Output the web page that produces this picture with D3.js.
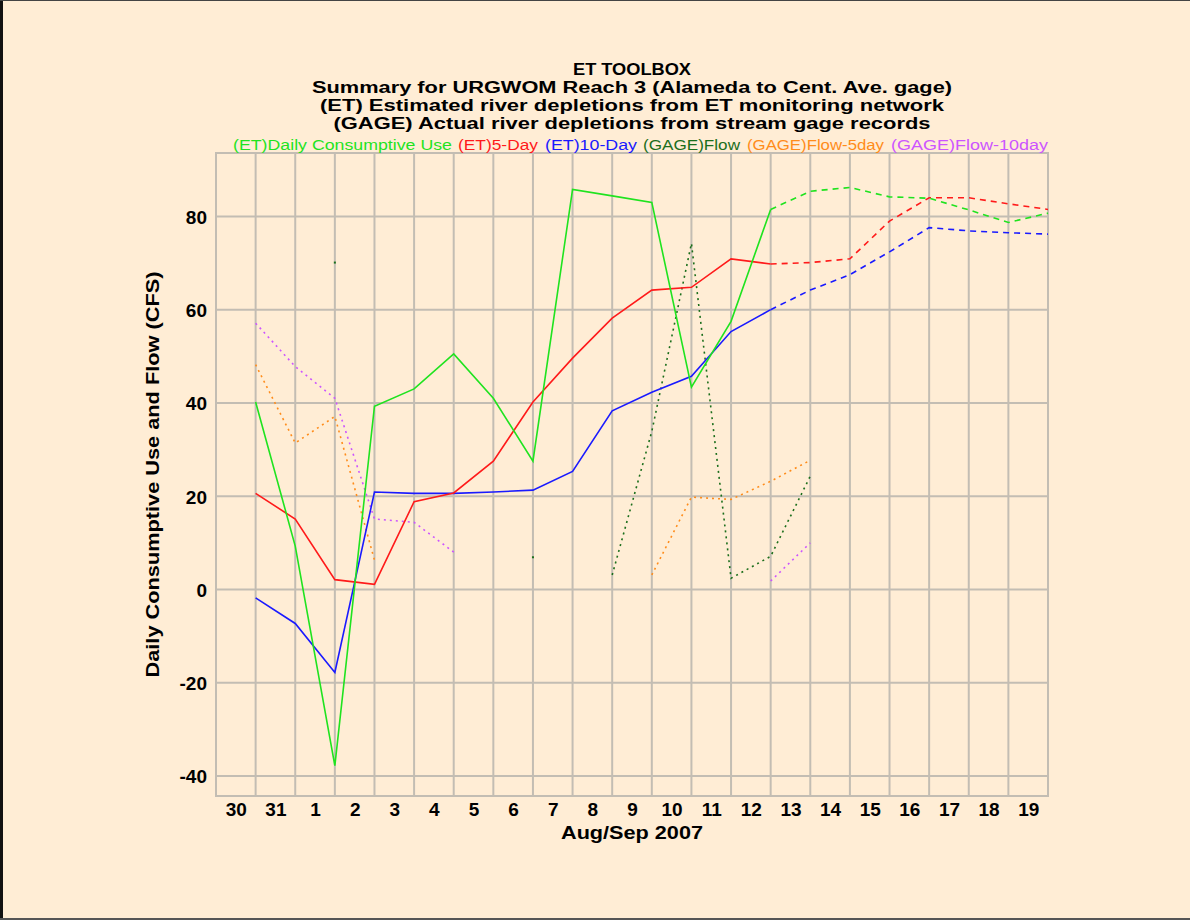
<!DOCTYPE html>
<html><head><meta charset="utf-8">
<script src="https://cdn.jsdelivr.net/npm/d3@7"></script>
<style>
html,body{margin:0;padding:0;background:#ffedd5;}
svg{display:block;}
</style></head>
<body>
<svg id="chart" width="1190" height="920"></svg>
<script>
// ---- data ----
const dayLabels = ["30","31","1","2","3","4","5","6","7","8","9","10","11","12","13","14","15","16","17","18","19"];
const yTicks = [-40,-20,0,20,40,60,80];
// values at the day boundaries (after each labelled day)
const etDaily = [40.2, 9.3, -37.8, 39.3, 43.0, 50.5, 41.0, 27.5, 85.8, 84.4, 83.0, 43.4, 57.5, 81.5, 85.4, 86.2, 84.2, 83.9, 81.4, 78.7, 80.7];
const et5Day  = [20.6, 15.1, 2.1, 1.1, 18.8, 20.7, 27.5, 40.2, 49.6, 58.2, 64.2, 64.8, 70.9, 69.8, 70.1, 70.9, 79.0, 84.0, 84.0, 82.7, 81.5];
const et10Day = [-1.8, -7.3, -17.8, 20.9, 20.6, 20.6, 20.9, 21.3, 25.3, 38.3, 42.3, 45.7, 55.3, 60.0, 64.2, 67.5, 72.4, 77.6, 76.9, 76.5, 76.2];
const gageFlow = [null, null, 70.1, null, null, null, null, 6.9, null, 3.1, 33.9, 74.2, 2.4, 7.1, 24.3, null, null, null, null, null, null];
const gage5Day = [48.2, 31.4, 37.1, 6.3, null, null, null, null, null, null, 3.1, 19.8, 19.3, 23.2, 27.7, null, null, null, null, null, null];
const gage10Day = [57.1, 47.8, 41.0, 15.1, 14.4, 8.0, null, null, null, null, null, null, null, 1.8, 10.0, null, null, null, null, null, null];
const observedCount = 14; // points measured; later ones are projected (dashed)

const titleLines = [
  "ET TOOLBOX",
  "Summary for URGWOM Reach 3 (Alameda to Cent. Ave. gage)",
  "(ET) Estimated river depletions from ET monitoring network",
  "(GAGE) Actual river depletions from stream gage records"
];
const legendItems = [
  {label:"(ET)Daily Consumptive Use", color:"#1fe31f"},
  {label:"(ET)5-Day", color:"#ff1a1a"},
  {label:"(ET)10-Day", color:"#1a1aff"},
  {label:"(GAGE)Flow", color:"#1b6e1b"},
  {label:"(GAGE)Flow-5day", color:"#ff8c1a"},
  {label:"(GAGE)Flow-10day", color:"#cc55ff"}
];

// ---- layout ----
const svg = d3.select("#chart");
const W = 1190, H = 920;
const plot = {left:216, right:1048, top:153, bottom:796};
const FONT = "'Liberation Sans', Arial, Helvetica, sans-serif";

// frame border of the picture
svg.append("rect").attr("x",0).attr("y",0).attr("width",W).attr("height",H).attr("fill","#ffedd5");
svg.append("rect").attr("x",0).attr("y",0).attr("width",3).attr("height",H).attr("fill","#111");
svg.append("rect").attr("x",0).attr("y",0).attr("width",W).attr("height",1).attr("fill","#444");
svg.append("rect").attr("x",0).attr("y",H-2).attr("width",W).attr("height",2).attr("fill","#555");

const x = d3.scaleLinear().domain([0, dayLabels.length]).range([plot.left, plot.right]);
const y = d3.scaleLinear().domain([-44.3, 93.6]).range([plot.bottom, plot.top]);

const gridColor = "#c3bdb3";
const g = svg.append("g");
g.selectAll("line.v").data(d3.range(0, dayLabels.length+1)).join("line")
  .attr("x1", d=>x(d)).attr("x2", d=>x(d))
  .attr("y1", plot.top).attr("y2", plot.bottom)
  .attr("stroke", gridColor).attr("stroke-width", 2);
g.selectAll("line.h").data(yTicks).join("line")
  .attr("x1", plot.left).attr("x2", plot.right)
  .attr("y1", d=>y(d)).attr("y2", d=>y(d))
  .attr("stroke", gridColor).attr("stroke-width", 2);
g.append("rect").attr("x",plot.left).attr("y",plot.top)
  .attr("width",plot.right-plot.left).attr("height",plot.bottom-plot.top)
  .attr("fill","none").attr("stroke",gridColor).attr("stroke-width",2);

// y axis
const yAxis = svg.append("g").attr("transform",`translate(${plot.left},0)`)
  .call(d3.axisLeft(y).tickValues(yTicks).tickFormat(d=>String(d)).tickSize(0).tickPadding(9));
yAxis.select(".domain").remove();
yAxis.selectAll("text").attr("font-family",FONT).attr("font-weight","bold")
  .attr("font-size","19px").attr("fill","#000").attr("dy","0.36em");

// x axis (labels centred in each day interval)
const xAxis = svg.append("g").attr("transform",`translate(0,${plot.bottom})`)
  .call(d3.axisBottom(x).tickValues(d3.range(dayLabels.length).map(i=>i+0.5))
    .tickFormat((d,i)=>dayLabels[i]).tickSize(0).tickPadding(7));
xAxis.select(".domain").remove();
xAxis.selectAll("text").attr("font-family",FONT).attr("font-weight","bold")
  .attr("font-size","19px").attr("fill","#000").attr("dy","0.71em");

// axis titles
svg.append("text").attr("x",(plot.left+plot.right)/2).attr("y",839)
  .attr("text-anchor","middle").attr("font-family",FONT).attr("font-weight","bold")
  .attr("font-size","19px").attr("textLength",142).attr("lengthAdjust","spacingAndGlyphs")
  .text("Aug/Sep 2007");
svg.append("text").attr("transform",`translate(159,${(plot.top+plot.bottom)/2}) rotate(-90)`)
  .attr("text-anchor","middle").attr("font-family",FONT).attr("font-weight","bold")
  .attr("font-size","19px").attr("textLength",406).attr("lengthAdjust","spacingAndGlyphs")
  .text("Daily Consumptive Use and Flow (CFS)");

// title
const titleY = [75, 93, 111, 129];
const titleW = [118, 640, 624, 597];
titleLines.forEach((t,i)=>{
  svg.append("text").attr("x",(plot.left+plot.right)/2).attr("y",titleY[i])
    .attr("text-anchor","middle").attr("font-family",FONT).attr("font-weight","bold")
    .attr("font-size","16px").attr("textLength",titleW[i]).attr("lengthAdjust","spacingAndGlyphs")
    .text(t);
});

// legend
const legendX = [233, 458, 545, 643, 747, 891];
const legendW = [219, 80, 92, 97, 137, 157];
legendItems.forEach((it,i)=>{
  svg.append("text").attr("x",legendX[i]).attr("y",150)
    .attr("font-family",FONT).attr("font-size","14px").attr("fill",it.color)
    .attr("textLength",legendW[i]).attr("lengthAdjust","spacingAndGlyphs")
    .text(it.label);
});

// ---- series ----
const line = d3.line().defined(d=>d.v!==null).x(d=>x(d.i)).y(d=>y(d.v));
function pts(arr){ return arr.map((v,k)=>({i:k+1, v:v})); }

function drawET(arr, color){
  const p = pts(arr);
  svg.append("path").attr("d", line(p.slice(0, observedCount)))
    .attr("fill","none").attr("stroke",color).attr("stroke-width",1.6);
  svg.append("path").attr("d", line(p.slice(observedCount-1)))
    .attr("fill","none").attr("stroke",color).attr("stroke-width",1.6)
    .attr("stroke-dasharray","6,5");
}
function drawGage(arr, color){
  const p = pts(arr);
  svg.append("path").attr("d", line(p))
    .attr("fill","none").attr("stroke",color).attr("stroke-width",1.6)
    .attr("stroke-dasharray","2,4");
  const iso = p.filter((d,k)=>d.v!==null && (k===0||p[k-1].v===null) && (k===p.length-1||p[k+1].v===null));
  svg.selectAll(null).data(iso).join("rect")
    .attr("x",d=>x(d.i)-1).attr("y",d=>y(d.v)-1).attr("width",2).attr("height",2)
    .attr("fill",color);
}

drawGage(gage10Day, legendItems[5].color);
drawGage(gage5Day, legendItems[4].color);
drawGage(gageFlow, legendItems[3].color);
drawET(et10Day, legendItems[2].color);
drawET(et5Day, legendItems[1].color);
drawET(etDaily, legendItems[0].color);
</script>
</body></html>
